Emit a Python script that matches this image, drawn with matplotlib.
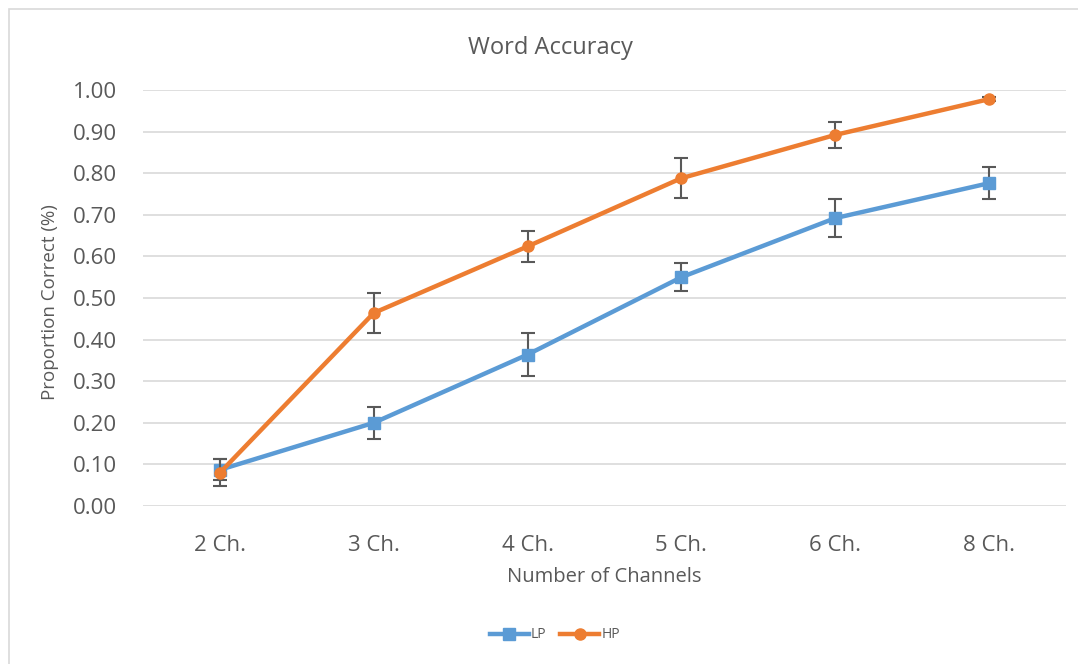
import matplotlib
matplotlib.use("Agg")
import matplotlib.pyplot as plt
from matplotlib.patches import Rectangle
from matplotlib.lines import Line2D

categories = ["2 Ch.", "3 Ch.", "4 Ch.", "5 Ch.", "6 Ch.", "8 Ch."]
lp_values = [0.087, 0.200, 0.364, 0.550, 0.692, 0.776]
lp_errors = [0.025, 0.038, 0.052, 0.034, 0.045, 0.038]
hp_values = [0.080, 0.464, 0.624, 0.788, 0.892, 0.978]
hp_errors = [0.032, 0.049, 0.037, 0.048, 0.031, 0.004]
yticks = [0.0, 0.1, 0.2, 0.3, 0.4, 0.5, 0.6, 0.7, 0.8, 0.9, 1.0]

plt.rcParams['font.family'] = ['Open Sans', 'DejaVu Sans']

W, H = 1078, 664
fig = plt.figure(figsize=(W / 100, H / 100), dpi=100)
fig.patches.append(Rectangle((9 / W, -0.01), 1.1, 1 - 9 / H + 0.01,
                             transform=fig.transFigure, fill=False,
                             edgecolor='#D9D9D9', linewidth=1.2))

ax = fig.add_axes([143 / W, 1 - 506 / H, (1066 - 143) / W, (506 - 90) / H])
x = list(range(len(categories)))

blue = '#5B9BD5'
orange = '#ED7D31'
errc = '#595959'
txt = '#595959'

ax.errorbar(x, lp_values, yerr=lp_errors, color=blue, lw=3.2, marker='s',
            ms=8, ecolor=errc, elinewidth=1.5, capsize=5, capthick=1.5,
            zorder=3)
ax.errorbar(x, hp_values, yerr=hp_errors, color=orange, lw=3.2, marker='o',
            ms=8, ecolor=errc, elinewidth=1.5, capsize=5, capthick=1.5,
            zorder=4)

ax.set_xlim(-0.5, len(categories) - 0.5)
ax.set_ylim(0, 1.0)
ax.set_yticks(yticks)
ax.set_yticklabels([f"{v:.2f}" for v in yticks])
ax.set_xticks(x)
ax.set_xticklabels(categories)
ax.grid(axis='y', color='#D9D9D9', lw=1.2, zorder=0)
ax.set_axisbelow(True)
for s in ax.spines.values():
    s.set_visible(False)
ax.tick_params(axis='both', length=0, labelsize=16, colors=txt)
ax.tick_params(axis='y', pad=19)
ax.tick_params(axis='x', pad=21)

fig.text(550 / W, 1 - 48 / H, "Word Accuracy", fontsize=17, color=txt,
         ha='center', va='center')
fig.text(604 / W, 1 - 577 / H, "Number of Channels", fontsize=14.5, color=txt,
         ha='center', va='center')
fig.text(50 / W, 1 - 302 / H, "Proportion Correct (%)", fontsize=13.5, color=txt,
         ha='center', va='center', rotation=90)

handles = [Line2D([], [], color=blue, lw=3.2, marker='s', ms=8),
           Line2D([], [], color=orange, lw=3.2, marker='o', ms=8)]
fig.legend(handles, ['LP', 'HP'], loc='center',
           bbox_to_anchor=(555 / W, 1 - 635 / H), ncol=2,
           frameon=False, fontsize=10, handlelength=2.8, columnspacing=1.0,
           handletextpad=0.15, labelcolor=txt)

fig.savefig("out.png", dpi=100, facecolor='white')
